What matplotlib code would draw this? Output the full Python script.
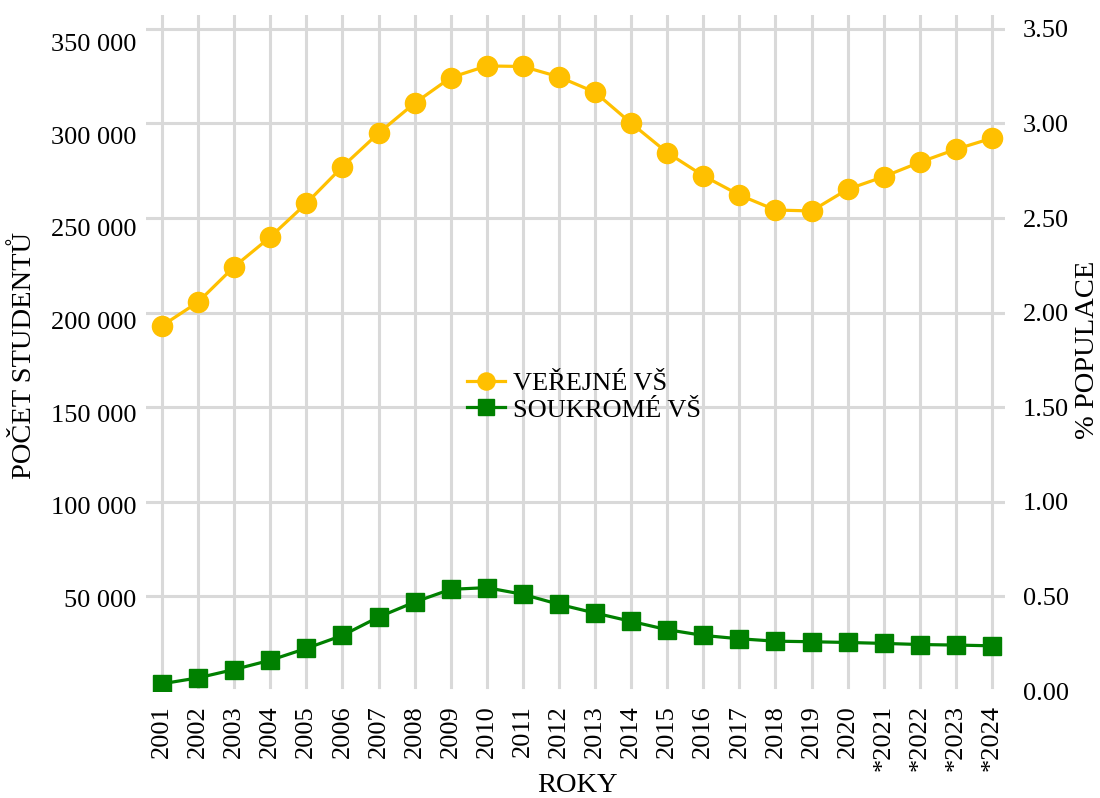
import matplotlib
matplotlib.use("Agg")
import matplotlib.pyplot as plt

years = list(range(2001, 2025))
year_labels = [str(y) for y in range(2001, 2021)] + ["*2021", "*2022", "*2023", "*2024"]
verejne = [197200, 210000, 229100, 245100, 263300, 283100, 301200, 317400, 331200, 337500,
           337200, 331600, 323300, 306600, 290700, 278200, 267800, 259700, 259200, 270900,
           277700, 285500, 292500, 298500]
soukrome = [3900, 7100, 11600, 16600, 23000, 30000, 39900, 48000, 54900, 55800,
            52200, 46800, 42100, 37600, 33100, 30000, 28200, 26900, 26600, 26200,
            25700, 25100, 24800, 24400]
left_ticks = [50000, 100000, 150000, 200000, 250000, 300000, 350000]
right_ticks = [0.0, 0.5, 1.0, 1.5, 2.0, 2.5, 3.0, 3.5]

plt.rcParams['font.family'] = ['Liberation Serif', 'DejaVu Serif']
FS = 19
LFS = 20.5

fig = plt.figure(figsize=(11, 7.98), dpi=100)
ax = fig.add_axes([146/1100, (798-691)/798, (1005-146)/1100, (691-15)/798])
ax2 = ax.twinx()
ax.set_zorder(ax2.get_zorder() + 1)
ax.patch.set_visible(False)

grid_c = '#d9d9d9'
ax.set_xlim(2000.557, 2024.36)
ax.set_ylim(0, 365000)
ax2.set_ylim(0, 3.573)

for v in right_ticks[1:]:
    ax2.axhline(v, color=grid_c, lw=2.2, zorder=0)
for y in years:
    ax2.axvline(y, ymin=0.006, ymax=1, color=grid_c, lw=2.2, zorder=0)

ax.plot(years, verejne, color='#ffc000', lw=2.3, marker='o', markersize=14.5,
        label='VEŘEJNÉ VŠ', zorder=3)
ax.plot(years, soukrome, color='#008000', lw=2.3, marker='s', markersize=13.5,
        label='SOUKROMÉ VŠ', zorder=3)

ax.set_xticks(years)
ax.set_xticklabels(year_labels, rotation=90, fontsize=FS)
ax.set_yticks(left_ticks)
ax.set_yticklabels([f"{v:,}".replace(",", " ") for v in left_ticks], fontsize=FS)
ax2.set_yticks(right_ticks)
ax2.set_yticklabels([f"{v:.2f}" for v in right_ticks], fontsize=FS)

ax.tick_params(axis='x', length=0, pad=10)
ax.tick_params(axis='y', length=0, pad=7)
ax2.tick_params(axis='y', length=0, pad=13)

for a in (ax, ax2):
    for s in a.spines.values():
        s.set_visible(False)

ax.set_xlabel('ROKY', fontsize=LFS)
ax.xaxis.set_label_coords(0.5017, -0.1405)
ax.xaxis.label.set_va('center')
ax.set_ylabel('POČET STUDENTŮ', fontsize=LFS)
ax.yaxis.set_label_coords(-0.141, 0.497)
ax.yaxis.label.set_va('center')
ax2.set_ylabel('% POPULACE', fontsize=LFS)
ax2.yaxis.set_label_coords(1.0966, 0.504)
ax2.yaxis.label.set_va('center')

leg = ax.legend(loc='center left', bbox_to_anchor=(0.3737, 0.4357), frameon=False,
                fontsize=FS, handlelength=1.45, handletextpad=0.28, labelspacing=0.12,
                borderpad=0, borderaxespad=0, markerscale=0.85)

fig.savefig('out.png', dpi=100)
